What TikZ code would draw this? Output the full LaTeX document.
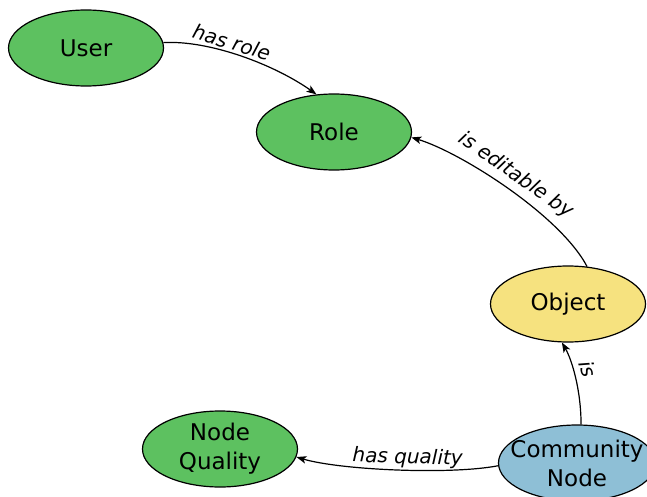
\documentclass[tikz,border=0pt]{standalone}
\usepackage{fontspec}
\setmainfont{DejaVu Sans}
\usetikzlibrary{shapes.geometric,arrows.meta}

\definecolor{nodegreen}{RGB}{93,193,96}
\definecolor{nodeyellow}{RGB}{246,226,127}
\definecolor{nodeblue}{RGB}{142,191,214}

\tikzset{
  entity/.style={ellipse, draw=black, line width=1.2pt, inner sep=0pt,
    minimum width=155pt, minimum height=76pt},
  entitytext/.style={font=\fontsize{23}{29}\selectfont, align=center, inner sep=0pt},
  relation/.style={draw=black, line width=1.2pt,
    -{Stealth[length=10pt, width=7.5pt, inset=2.5pt]}},
  rellabel/.style={font=\fontsize{20}{24}\selectfont\itshape, inner sep=2pt}
}

\begin{document}
\begin{tikzpicture}[x=1pt, y=-1pt]
  \useasboundingbox (0,0) rectangle (647,497);
  \clip (0,0) rectangle (647,497);

  % entities
  \node[entity, fill=nodegreen] (user) at (86,48) {};
  \node[entitytext] at (user.center) {User};
  \node[entity, fill=nodegreen] (role) at (334,132) {};
  \node[entitytext] at (role.center) {Role};
  \node[entity, fill=nodeyellow] (object) at (568,304) {};
  \node[entitytext] at (object.center) {Object};
  \node[entity, fill=nodegreen] (quality) at (220,449) {};
  \node[entitytext] at (quality.center) {Node\\Quality};
  \node[entity, fill=nodeblue, minimum width=157pt] (community) at (577,463) {};
  \node[entitytext] at (community.center) {Community\\Node};

  % relations
  \draw[relation] (user.4) .. controls (210,40) and (275,65) .. (role.115)
    node[rellabel, pos=0.42, sloped, above] {has role};
  \draw[relation, {Stealth[length=10pt, width=7.5pt, inset=2.5pt]}-]
    (role.-4) .. controls (460,152) and (560,215) .. (object.63)
    node[rellabel, pos=0.5, sloped, above=3pt] {is editable by};
  \draw[relation, {Stealth[length=10pt, width=7.5pt, inset=2.5pt]}-]
    (object.-99) .. controls (572,360) and (581,390) .. (community.84)
    node[rellabel, pos=0.45, sloped, above=4pt] {is};
  \draw[relation, {Stealth[length=10pt, width=7.5pt, inset=2.5pt]}-]
    (quality.-6) .. controls (340,470) and (450,475) .. (community.182)
    node[rellabel, pos=0.55, sloped, above] {has quality};
\end{tikzpicture}
\end{document}
